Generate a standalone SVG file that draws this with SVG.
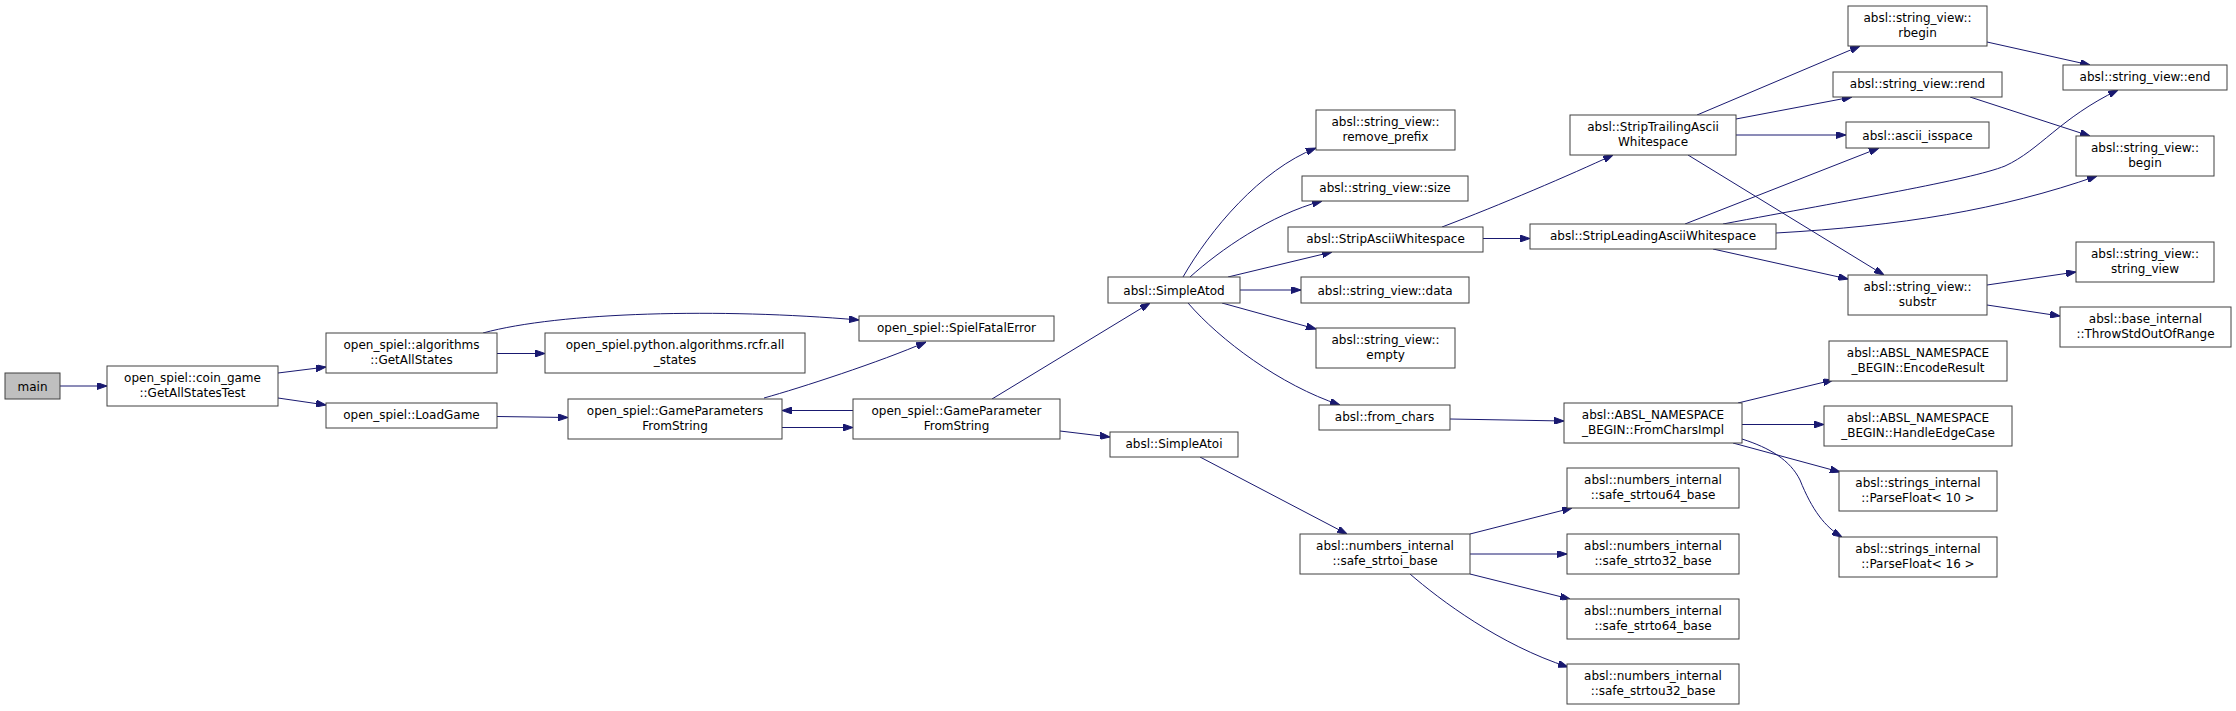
<svg xmlns="http://www.w3.org/2000/svg" width="2236" height="711" viewBox="0 0 2236 711">
<style>
.n rect{fill:#ffffff;stroke:#404040;stroke-width:1}
.n.root rect{fill:#bfbfbf}
.n text{font-family:"DejaVu Sans","Liberation Sans",sans-serif;font-size:12px;fill:#000;text-anchor:middle}
.e path{fill:none;stroke:#191970;stroke-width:1;marker-end:url(#arr)}
</style>
<defs>
<marker id="arr" markerUnits="userSpaceOnUse" viewBox="0 0 10 7" refX="10" refY="3.5" markerWidth="10" markerHeight="7" orient="auto">
<path d="M0,0 L10,3.5 L0,7 z" fill="#191970" stroke="#191970" stroke-width="1"/>
</marker>
</defs>
<rect x="0" y="0" width="2236" height="711" fill="#ffffff"/>
<g id="edges" class="e">
<path d="M60,386 L107,386"/>
<path d="M278,373 L326,367"/>
<path d="M278,398 L326,405"/>
<path d="M497,353.5 L545,353.5"/>
<path d="M483,333 C 560,312 720,308 859,320"/>
<path d="M497,416.5 L568,417.5"/>
<path d="M764,398 C 800,388 880,362 926,342"/>
<path d="M782,427.5 L853,427.5"/>
<path d="M853,410.5 L782,410.5"/>
<path d="M992,399 L1150,303"/>
<path d="M1060,431 L1110,437"/>
<path d="M1183,277 C 1210,230 1260,170 1316,148"/>
<path d="M1190,277 C 1220,250 1270,215 1322,201"/>
<path d="M1228,277 L1332,252"/>
<path d="M1240,290 L1301,290"/>
<path d="M1222,303 L1316,329"/>
<path d="M1188,303 C 1220,340 1280,385 1340,405"/>
<path d="M1442,227 C 1500,205 1570,175 1613,155"/>
<path d="M1483,238.5 L1530,238.5"/>
<path d="M1697,115 L1860,46"/>
<path d="M1736,119 L1852,97"/>
<path d="M1736,135 L1846,135"/>
<path d="M1688,155 L1884,275"/>
<path d="M1685,224 L1879,148"/>
<path d="M1723,224 C 1850,200 1970,180 2005,166 C 2040,150 2060,118 2118,90"/>
<path d="M1776,233 C 1900,226 2000,210 2097,176"/>
<path d="M1713,249 L1848,279"/>
<path d="M1987,42 L2090,65"/>
<path d="M1970,97 L2090,136"/>
<path d="M1987,285 L2076,272"/>
<path d="M1987,305 L2060,316"/>
<path d="M1450,419 L1564,421"/>
<path d="M1738,403 L1833,380"/>
<path d="M1742,424.5 L1824,424.5"/>
<path d="M1733,443 L1840,472"/>
<path d="M1742,439 C 1770,448 1790,460 1800,480 C 1812,510 1825,527 1842,537"/>
<path d="M1200,457 L1347,534"/>
<path d="M1470,534 L1572,508"/>
<path d="M1470,554 L1567,554"/>
<path d="M1470,574 L1570,599"/>
<path d="M1410,574 C 1440,600 1500,645 1568,667"/>
</g>
<g id="node-main" class="n root"><rect x="5" y="373" width="55" height="26"/><text x="32.5" y="390.5">main</text></g>
<g id="node-getallstatestest" class="n"><rect x="107" y="366" width="171" height="40"/><text x="192.5" y="381.5">open_spiel::coin_game</text><text x="192.5" y="396.5">::GetAllStatesTest</text></g>
<g id="node-getallstates" class="n"><rect x="326" y="333" width="171" height="40"/><text x="411.5" y="348.5">open_spiel::algorithms</text><text x="411.5" y="363.5">::GetAllStates</text></g>
<g id="node-loadgame" class="n"><rect x="326" y="403" width="171" height="25"/><text x="411.5" y="419">open_spiel::LoadGame</text></g>
<g id="node-rcfr" class="n"><rect x="545" y="333" width="260" height="40"/><text x="675" y="348.5">open_spiel.python.algorithms.rcfr.all</text><text x="675" y="363.5">_states</text></g>
<g id="node-spielfatalerror" class="n"><rect x="859" y="316" width="195" height="25"/><text x="956.5" y="332">open_spiel::SpielFatalError</text></g>
<g id="node-gameparametersfromstring" class="n"><rect x="568" y="399" width="214" height="40"/><text x="675" y="414.5">open_spiel::GameParameters</text><text x="675" y="429.5">FromString</text></g>
<g id="node-gameparameterfromstring" class="n"><rect x="853" y="399" width="207" height="40"/><text x="956.5" y="414.5">open_spiel::GameParameter</text><text x="956.5" y="429.5">FromString</text></g>
<g id="node-simpleatod" class="n"><rect x="1108" y="277" width="132" height="26"/><text x="1174" y="294.5">absl::SimpleAtod</text></g>
<g id="node-simpleatoi" class="n"><rect x="1110" y="432" width="128" height="25"/><text x="1174" y="448">absl::SimpleAtoi</text></g>
<g id="node-remove-prefix" class="n"><rect x="1316" y="110" width="139" height="40"/><text x="1385.5" y="125.5">absl::string_view::</text><text x="1385.5" y="140.5">remove_prefix</text></g>
<g id="node-size" class="n"><rect x="1302" y="176" width="166" height="25"/><text x="1385" y="192">absl::string_view::size</text></g>
<g id="node-stripasciiwhitespace" class="n"><rect x="1288" y="227" width="195" height="25"/><text x="1385.5" y="243">absl::StripAsciiWhitespace</text></g>
<g id="node-data" class="n"><rect x="1301" y="277" width="168" height="26"/><text x="1385" y="294.5">absl::string_view::data</text></g>
<g id="node-empty" class="n"><rect x="1316" y="328" width="139" height="40"/><text x="1385.5" y="343.5">absl::string_view::</text><text x="1385.5" y="358.5">empty</text></g>
<g id="node-from-chars" class="n"><rect x="1319" y="405" width="131" height="25"/><text x="1384.5" y="421">absl::from_chars</text></g>
<g id="node-safe-strtoi-base" class="n"><rect x="1300" y="534" width="170" height="40"/><text x="1385" y="549.5">absl::numbers_internal</text><text x="1385" y="564.5">::safe_strtoi_base</text></g>
<g id="node-striptrailing" class="n"><rect x="1570" y="115" width="166" height="40"/><text x="1653" y="130.5">absl::StripTrailingAscii</text><text x="1653" y="145.5">Whitespace</text></g>
<g id="node-stripleading" class="n"><rect x="1530" y="224" width="246" height="25"/><text x="1653" y="240">absl::StripLeadingAsciiWhitespace</text></g>
<g id="node-fromcharsimpl" class="n"><rect x="1564" y="403" width="178" height="40"/><text x="1653" y="418.5">absl::ABSL_NAMESPACE</text><text x="1653" y="433.5">_BEGIN::FromCharsImpl</text></g>
<g id="node-safe-strtou64-base" class="n"><rect x="1567" y="468" width="172" height="40"/><text x="1653" y="483.5">absl::numbers_internal</text><text x="1653" y="498.5">::safe_strtou64_base</text></g>
<g id="node-safe-strto32-base" class="n"><rect x="1567" y="534" width="172" height="40"/><text x="1653" y="549.5">absl::numbers_internal</text><text x="1653" y="564.5">::safe_strto32_base</text></g>
<g id="node-safe-strto64-base" class="n"><rect x="1567" y="599" width="172" height="40"/><text x="1653" y="614.5">absl::numbers_internal</text><text x="1653" y="629.5">::safe_strto64_base</text></g>
<g id="node-safe-strtou32-base" class="n"><rect x="1567" y="664" width="172" height="40"/><text x="1653" y="679.5">absl::numbers_internal</text><text x="1653" y="694.5">::safe_strtou32_base</text></g>
<g id="node-rbegin" class="n"><rect x="1848" y="6" width="139" height="40"/><text x="1917.5" y="21.5">absl::string_view::</text><text x="1917.5" y="36.5">rbegin</text></g>
<g id="node-rend" class="n"><rect x="1833" y="72" width="169" height="25"/><text x="1917.5" y="88">absl::string_view::rend</text></g>
<g id="node-ascii-isspace" class="n"><rect x="1846" y="122" width="143" height="26"/><text x="1917.5" y="139.5">absl::ascii_isspace</text></g>
<g id="node-substr" class="n"><rect x="1848" y="275" width="139" height="40"/><text x="1917.5" y="290.5">absl::string_view::</text><text x="1917.5" y="305.5">substr</text></g>
<g id="node-encoderesult" class="n"><rect x="1829" y="341" width="178" height="40"/><text x="1918" y="356.5">absl::ABSL_NAMESPACE</text><text x="1918" y="371.5">_BEGIN::EncodeResult</text></g>
<g id="node-handleedgecase" class="n"><rect x="1824" y="406" width="188" height="40"/><text x="1918" y="421.5">absl::ABSL_NAMESPACE</text><text x="1918" y="436.5">_BEGIN::HandleEdgeCase</text></g>
<g id="node-parsefloat10" class="n"><rect x="1839" y="471" width="158" height="40"/><text x="1918" y="486.5">absl::strings_internal</text><text x="1918" y="501.5">::ParseFloat&lt; 10 &gt;</text></g>
<g id="node-parsefloat16" class="n"><rect x="1839" y="537" width="158" height="40"/><text x="1918" y="552.5">absl::strings_internal</text><text x="1918" y="567.5">::ParseFloat&lt; 16 &gt;</text></g>
<g id="node-end" class="n"><rect x="2063" y="65" width="164" height="25"/><text x="2145" y="81">absl::string_view::end</text></g>
<g id="node-begin" class="n"><rect x="2076" y="136" width="138" height="40"/><text x="2145" y="151.5">absl::string_view::</text><text x="2145" y="166.5">begin</text></g>
<g id="node-string-view" class="n"><rect x="2076" y="242" width="138" height="40"/><text x="2145" y="257.5">absl::string_view::</text><text x="2145" y="272.5">string_view</text></g>
<g id="node-throwstdoutofrange" class="n"><rect x="2060" y="307" width="171" height="40"/><text x="2145.5" y="322.5">absl::base_internal</text><text x="2145.5" y="337.5">::ThrowStdOutOfRange</text></g>
</svg>
